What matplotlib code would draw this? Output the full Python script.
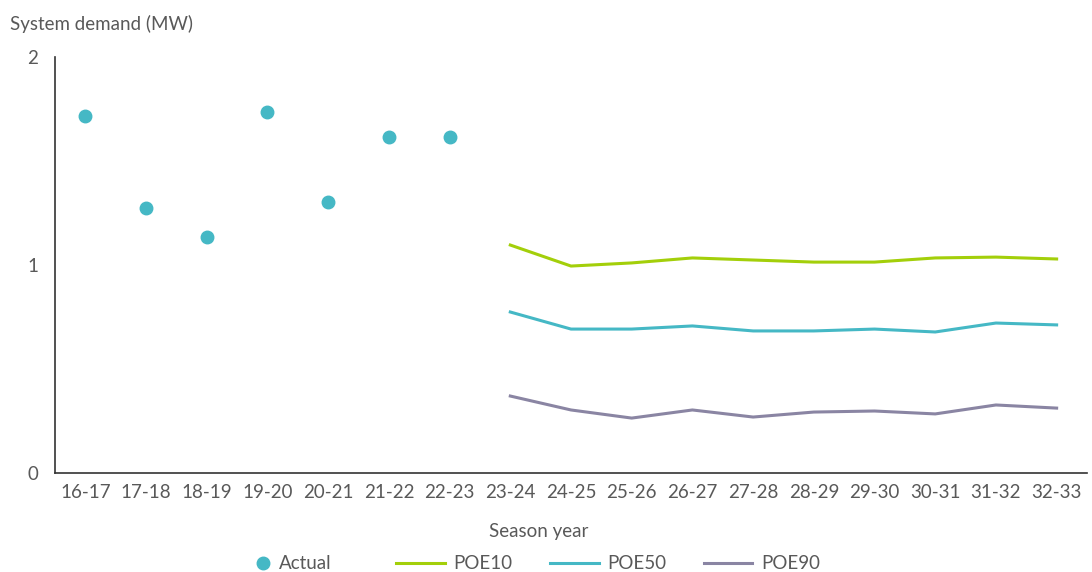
import numpy as np
import matplotlib
matplotlib.use("Agg")
import matplotlib.pyplot as plt

plt.rcParams['font.family'] = ['Lato', 'DejaVu Sans']

# season labels along the x axis
seasons = ['16-17', '17-18', '18-19', '19-20', '20-21', '21-22', '22-23', '23-24',
           '24-25', '25-26', '26-27', '27-28', '28-29', '29-30', '30-31', '31-32', '32-33']

# actual demand (first seven seasons)
actual = [1.716, 1.274, 1.135, 1.736, 1.303, 1.615, 1.615]

# forecasts (last ten seasons)
poe10 = [1.096, 0.995, 1.010, 1.034, 1.024, 1.014, 1.014, 1.034, 1.038, 1.029]
poe50 = [0.774, 0.692, 0.692, 0.707, 0.683, 0.683, 0.692, 0.678, 0.721, 0.712]
poe90 = [0.370, 0.303, 0.264, 0.303, 0.269, 0.293, 0.298, 0.284, 0.327, 0.312]

teal = '#45B8C5'
green = '#A3CF0A'
purple = '#8A85A3'
text_col = '#595959'
fs = 13.5

fig = plt.figure(figsize=(10.92, 5.72), dpi=100)
ax = fig.add_axes([0.0504, 0.1731, 0.9450, 0.7272])

x = np.arange(len(seasons))
xa = x[:len(actual)]
xf = x[len(seasons) - len(poe10):]

h_act, = ax.plot(xa, actual, linestyle='none', marker='o', ms=9, color=teal, label='Actual')
h10, = ax.plot(xf, poe10, color=green, lw=2.2, label='POE10')
h50, = ax.plot(xf, poe50, color=teal, lw=2.2, label='POE50')
h90, = ax.plot(xf, poe90, color=purple, lw=2.2, label='POE90')

ax.set_xlim(-0.5, len(seasons) - 0.5)
ax.set_ylim(0, 2)
ax.set_yticks([0, 1, 2])
ax.set_xticks(x)
ax.set_xticklabels(seasons)
ax.tick_params(length=0, labelsize=fs, labelcolor=text_col)
ax.tick_params(axis='y', pad=12)
ax.tick_params(axis='x', pad=8)

for s in ['top', 'right']:
    ax.spines[s].set_visible(False)
for s in ['left', 'bottom']:
    ax.spines[s].set_color('#333333')
    ax.spines[s].set_linewidth(1.2)

fig.text(0.009, 0.958, 'System demand (MW)', fontsize=fs, color=text_col,
         ha='left', va='center')
fig.text(0.493, 0.070, 'Season year', fontsize=fs, color=text_col,
         ha='center', va='center')

W, H = 1092, 572
leg1 = fig.legend(handles=[h_act], loc='center left', bbox_to_anchor=(254.5 / W, 0.014),
                  frameon=False, fontsize=fs, handlelength=0.9, handletextpad=0.4,
                  borderpad=0, borderaxespad=0)
leg2 = fig.legend(handles=[h10, h50, h90], loc='center left', bbox_to_anchor=(396 / W, 0.014),
                  ncol=3, frameon=False, fontsize=fs, handlelength=2.6, handletextpad=0.45,
                  columnspacing=2.0, borderpad=0, borderaxespad=0)
for leg in (leg1, leg2):
    for t in leg.get_texts():
        t.set_color(text_col)

fig.savefig('out.png', dpi=100)
